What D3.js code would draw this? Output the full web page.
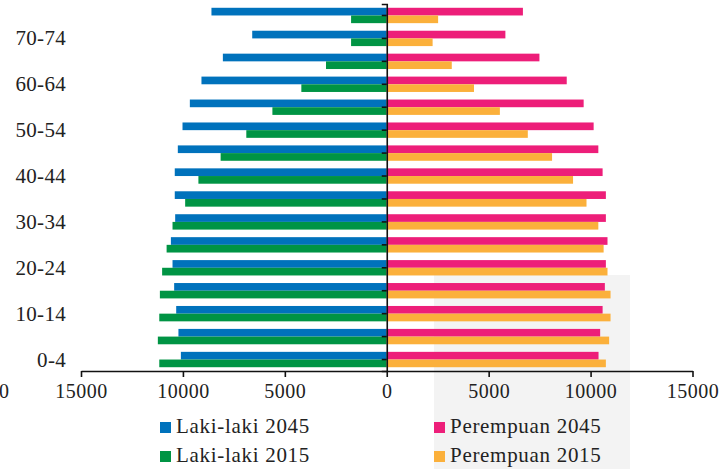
<!DOCTYPE html>
<html>
<head>
<meta charset="utf-8">
<script src="https://cdn.jsdelivr.net/npm/d3@7"></script>
<style>
  html, body { margin: 0; padding: 0; background: #ffffff; }
  svg { display: block; }
  text { font-family: "Liberation Serif", "DejaVu Serif", serif; fill: #222; }
</style>
</head>
<body>
<svg id="chart" width="720" height="469"></svg>
<script>
// ---- data ----
const ageGroups = ["0-4","5-9","10-14","15-19","20-24","25-29","30-34","35-39",
                   "40-44","45-49","50-54","55-59","60-64","65-69","70-74","75-79"];
const labelGroups = ["0-4","10-14","20-24","30-34","40-44","50-54","60-64","70-74"];
const male2045   = [10100,10220,10330,10430,10510,10590,10380,10400,10400,10250,10020,9660,9090,8040,6600,8600];
const male2015   = [11160,11230,11160,11130,11020,10800,10510,9890,9240,8150,6890,5610,4190,2980,1750,1750];
const female2045 = [10390,10470,10590,10700,10750,10830,10750,10750,10590,10380,10150,9660,8830,7490,5820,6680];
const female2015 = [10750,10910,10980,10980,10830,10640,10380,9800,9140,8110,6920,5550,4280,3190,2250,2520];
const xTicks = [-15000,-10000,-5000,0,5000,10000,15000];
const seriesNames = ["Laki-laki 2045","Laki-laki 2015","Perempuan 2045","Perempuan 2015"];
const seriesColors = ["#0072BC","#009444","#ED1E79","#FBB03B"];

// ---- layout ----
const svg = d3.select("#chart");
const x = d3.scaleLinear().domain([-15000, 15000]).range([81, 692.5]);
const y = d3.scaleBand().domain(ageGroups.slice().reverse()).range([4, 371])
  .paddingInner(0.33).paddingOuter(0.165);
const sub = d3.scaleBand().domain(["a","b"]).range([0, y.bandwidth()]);

// light gray background panel
svg.append("rect").attr("x", 434).attr("y", 275).attr("width", 196).attr("height", 194)
  .attr("fill", "#f3f3f3");

// bars
const rows = ageGroups.map((g, i) => ({g, m45: male2045[i], m15: male2015[i], f45: female2045[i], f15: female2015[i]}));
const barGroups = [
  {key: "m45", sub: "a", color: seriesColors[0], sign: -1},
  {key: "m15", sub: "b", color: seriesColors[1], sign: -1},
  {key: "f45", sub: "a", color: seriesColors[2], sign: 1},
  {key: "f15", sub: "b", color: seriesColors[3], sign: 1}
];
barGroups.forEach(bg => {
  svg.append("g").selectAll("rect").data(rows).join("rect")
    .attr("x", d => bg.sign < 0 ? x(-d[bg.key]) : x(0))
    .attr("width", d => Math.abs(x(bg.sign * d[bg.key]) - x(0)))
    .attr("y", d => y(d.g) + sub(bg.sub))
    .attr("height", sub.bandwidth())
    .attr("fill", bg.color);
});

// y axis at zero
const yAxis = d3.axisLeft(y).tickSize(5).tickSizeOuter(5).tickFormat("");
const yg = svg.append("g").attr("transform", `translate(${x(0)},0)`).call(yAxis);
yg.selectAll("path, line").attr("stroke", "#111").attr("stroke-width", 1.6);

// y labels
svg.append("g").selectAll("text").data(labelGroups).join("text")
  .attr("x", 66).attr("y", d => y(d) + y.bandwidth() / 2 + 7)
  .attr("text-anchor", "end").attr("font-size", 21).attr("letter-spacing", 0.3)
  .text(d => d);

// x axis
const xAxis = d3.axisBottom(x).tickValues(xTicks).tickSize(6).tickSizeOuter(0)
  .tickFormat(d => Math.abs(d));
const xg = svg.append("g").attr("transform", "translate(0,371)").call(xAxis);
xg.selectAll("path, line").attr("stroke", "#111").attr("stroke-width", 1.6);
xg.selectAll("text").attr("font-size", 20).attr("fill", "#222").attr("letter-spacing", 0.5)
  .attr("font-family", "Liberation Serif, serif").attr("dy", 0).attr("y", 27);

// stray label at far left
svg.append("text").attr("x", 9).attr("y", 398).attr("text-anchor", "end")
  .attr("font-size", 20).text("0");

// legend
const legendPos = [[160, 433], [160, 462], [434, 433], [434, 462]];
const lg = svg.append("g").selectAll("g").data(seriesNames).join("g")
  .attr("transform", (d, i) => `translate(${legendPos[i][0]},${legendPos[i][1]})`);
lg.append("rect").attr("x", 0).attr("y", -11).attr("width", 11).attr("height", 11)
  .attr("fill", (d, i) => seriesColors[i]);
lg.append("text").attr("x", 16).attr("y", 0).attr("font-size", 21).attr("letter-spacing", 0.7)
  .text(d => d);
</script>
</body>
</html>
